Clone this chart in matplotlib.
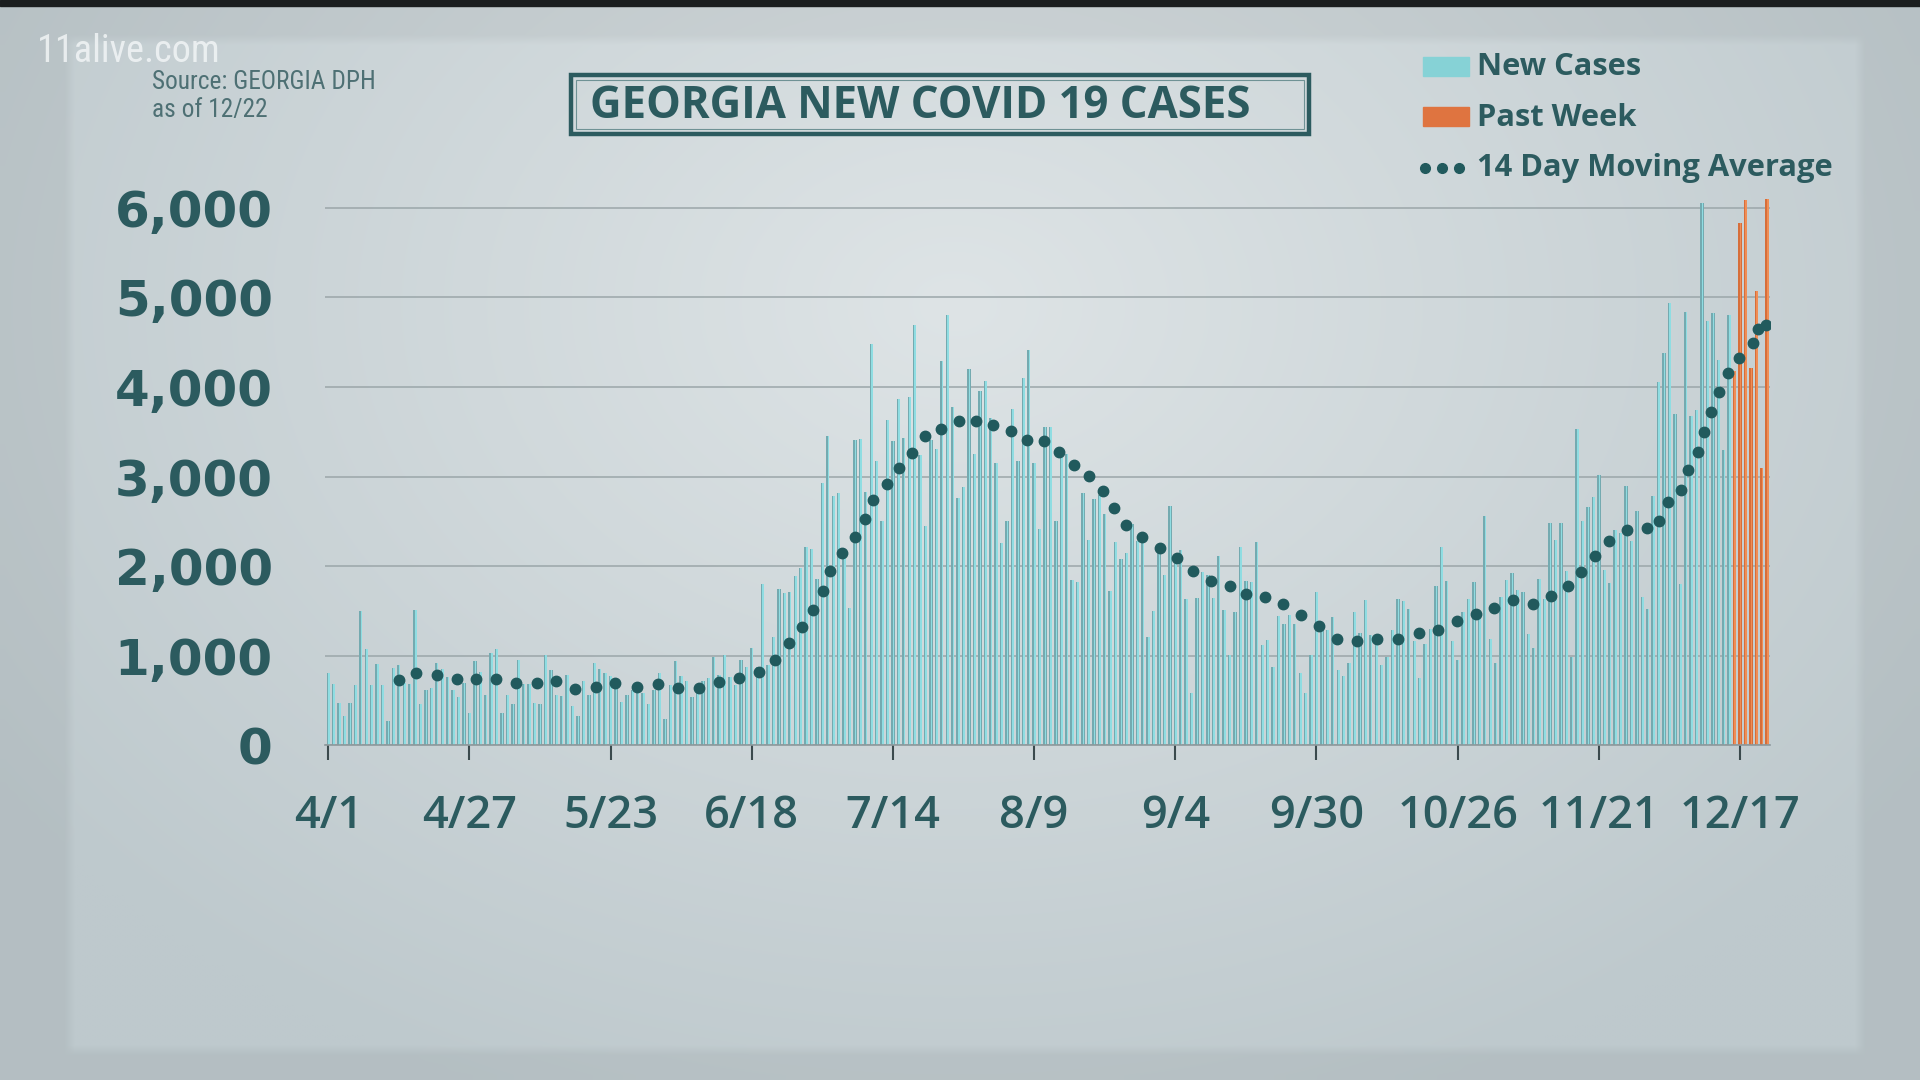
import numpy as np
import matplotlib
matplotlib.use("Agg")
import matplotlib.pyplot as plt
from matplotlib import font_manager
from matplotlib.patches import Rectangle

# daily new cases, 4/1 .. 12/22 (one value per day)
new_cases = [
    808, 686, 475, 325, 475, 666, 1503, 1076, 666, 902, 666, 272, 861, 894, 699, 678, 1511, 463, 617, 638,
    922, 849, 760, 617, 536, 690, 361,
    942, 820, 565, 1024, 1076, 361, 565, 455, 950, 686, 686, 475, 463, 1011, 841, 565, 544, 788, 435, 329,
    711, 565, 922, 849, 800, 768, 711,
    483, 565, 617, 577, 577, 455, 617, 808, 292, 670, 942, 768, 719, 536, 658, 711, 747, 983, 788, 1011,
    760, 666, 954, 873, 1084, 873, 1795, 890,
    1206, 1743, 1694, 1714, 1889, 1978, 2214, 2189, 1856, 2933, 3452, 2782, 2811, 2141, 1531, 3408, 3420,
    2831, 4476, 3176, 2506, 3635, 3392, 3867, 3432, 3887, 4691,
    3245, 2445, 3408, 3310, 4285, 4801, 3773, 2758, 2880, 4204, 3257, 3960, 4070, 3652, 3148, 2254, 2498,
    3757, 3176, 4098, 4415, 3156, 2417, 3554, 3554, 2506, 3217, 3253,
    1848, 1824, 2811, 2295, 2750, 2790, 2587, 1726, 2270, 2080, 2141, 2474, 2283, 2270, 1206, 1499, 2161,
    1905, 2669, 2108, 2181, 1633, 577, 1645, 1937, 1905, 1645, 2112,
    1511, 1011, 1483, 2214, 1836, 1824, 2270, 1117, 1178, 873, 1442, 1349, 1450, 1349, 800, 585, 1011,
    1714, 1349, 1288, 1430, 841, 772, 922, 1483, 1255, 1621,
    1227, 1227, 890, 983, 1288, 1633, 1613, 1523, 1166, 751, 1125, 1296, 1775, 2214, 1836, 1166, 955,
    1491, 1633, 1824, 1483, 2555, 1186, 922, 1653, 1848, 1917, 1734,
    1714, 1239, 1084, 1856, 1633, 2486, 2295, 2486, 1946, 983, 3534, 2506, 2660, 2770, 3014, 1958, 1807,
    2405, 2364, 2892, 2283, 2620, 1653, 1523, 2782, 4058, 4383, 4935,
    3704, 1795, 4842, 3672, 3745, 6060, 4732, 4829, 4301, 3298, 4801,
]
# last seven days (12/16 .. 12/22), shown in orange
past_week = [4180, 5829, 6089, 4212, 5073, 3095, 6100]

# 14 day moving average dots: (day since 4/1, value)
ma_days = [13.0, 16.2, 20.0, 23.8, 27.3, 30.9, 34.5, 38.4, 42.0, 45.5, 49.4, 52.9, 56.9, 60.7, 64.5, 68.3,
           72.0, 75.7, 79.4, 82.3, 84.9, 87.3, 89.3, 91.1, 92.5, 94.6, 97.0, 98.9, 100.4, 102.9, 105.1,
           107.6, 109.9, 112.9, 116.2, 119.3, 122.4, 125.7, 128.6, 131.9, 134.6, 137.3, 140.1, 142.6,
           144.7, 146.9, 149.8, 153.1, 156.4, 159.2, 162.5, 166.0, 169.0, 172.6, 175.9, 179.1, 182.5,
           185.7, 189.5, 193.2, 197.0, 200.8, 204.3, 207.8, 211.4, 214.6, 218.1, 221.8, 225.1, 228.3,
           230.7, 233.3, 235.9, 239.1, 242.8, 245.1, 246.7, 249.1, 250.5, 252.3, 253.4, 254.7, 256.1,
           257.7, 259.8, 262.3, 263.3, 264.8]
ma_vals = [727, 808, 780, 739, 739, 739, 690, 690, 711, 630, 646, 699, 646, 678, 638, 638,
           707, 751, 820, 954, 1137, 1316, 1511, 1722, 1946, 2141, 2323, 2526, 2742, 2912, 3095,
           3258, 3448, 3534, 3623, 3615, 3578, 3513, 3412, 3400, 3278, 3124, 3006, 2839,
           2648, 2457, 2323, 2201, 2092, 1946, 1828, 1775, 1686, 1653, 1572, 1450, 1328,
           1186, 1158, 1186, 1186, 1247, 1288, 1389, 1462, 1531, 1621, 1580, 1665, 1775,
           1929, 2108, 2275, 2405, 2425, 2506, 2721, 2851, 3075, 3278, 3501, 3725, 3944,
           4159, 4326, 4496, 4651, 4691]

tick_days = [0, 26, 52, 78, 104, 130, 156, 182, 208, 234, 260]
tick_labels = ["4/1", "4/27", "5/23", "6/18", "7/14", "8/9", "9/4", "9/30", "10/26", "11/21", "12/17"]
y_ticks = [0, 1000, 2000, 3000, 4000, 5000, 6000]


def pick(*names):
    avail = {f.name for f in font_manager.fontManager.ttflist}
    for n in names:
        if n in avail:
            return n
    return "DejaVu Sans"


MAIN = pick("Open Sans", "Lato", "DejaVu Sans")
NARROW = pick("Liberation Sans Narrow", "Roboto Condensed", "Roboto", "DejaVu Sans")
TEAL = "#2c5b5f"

fig = plt.figure(figsize=(19.2, 10.8), dpi=100)

# background: soft grey-blue panel with a darker frame
bg = fig.add_axes([0, 0, 1, 1])
H, W = 108, 192
yy, xx = np.mgrid[0:H, 0:W]
d = np.sqrt(((xx - 95) / 115.0) ** 2 + ((yy - 30) / 85.0) ** 2)
t = np.clip(d, 0, 1)[..., None]
light = np.array([222, 228, 230]) / 255.0
dark = np.array([190, 201, 205]) / 255.0
img = light * (1 - t) + dark * t
inside = (xx >= 7) & (xx <= 185) & (yy >= 4) & (yy <= 104)
img[~inside] *= 0.95
bg.imshow(img, extent=[0, 1, 0, 1], aspect="auto", interpolation="bilinear", origin="upper")
bg.axis("off")
fig.patches.append(Rectangle((0, 1 - 6 / 1080), 1, 6 / 1080, transform=fig.transFigure,
                             color="#1b1e1f", zorder=1))

ax = fig.add_axes([0.16953, 0.31009, 0.75229, 0.50565])
ax.patch.set_alpha(0)

days = np.arange(len(new_cases))
week_days = np.arange(len(new_cases), len(new_cases) + len(past_week))

ax.bar(days, new_cases, width=0.62, color="#74aab0", zorder=2)
ax.bar(days + 0.12, new_cases, width=0.3, color="#8fdde2", zorder=2)
ax.bar(week_days, past_week, width=0.62, color="#d66e3a", zorder=2)
ax.bar(week_days + 0.12, past_week, width=0.3, color="#f08d55", zorder=2)

ax.plot(ma_days, ma_vals, "o", ms=7.5, color="#215a5d", zorder=4)

ax.set_xlim(-0.5, 265.5)
ax.set_ylim(0, 6100)
ax.set_yticks(y_ticks)
ax.set_yticklabels([f"{v:,}" for v in y_ticks])
ax.set_xticks(tick_days)
ax.set_xticklabels(tick_labels)
ax.grid(axis="y", color="#9ba6a9", linewidth=1.1, zorder=0)
ax.grid(axis="x", visible=False)
for s in ["top", "right", "left"]:
    ax.spines[s].set_visible(False)
ax.spines["bottom"].set_color("#8d989b")
ax.spines["bottom"].set_linewidth(1.2)

ax.tick_params(axis="y", length=0, pad=38, labelsize=36, labelcolor=TEAL)
ax.tick_params(axis="x", length=11, width=1.5, color="#3b4a4d", pad=24, labelsize=32.5, labelcolor=TEAL)
for lab in ax.get_yticklabels():
    lab.set_fontfamily("DejaVu Sans")
    lab.set_fontweight("bold")
for lab in ax.get_xticklabels():
    lab.set_fontfamily(MAIN)
    lab.set_fontweight("semibold")

# title box
fig.patches.append(Rectangle((571 / 1920, 1 - 134 / 1080), 738 / 1920, 59 / 1080,
                             transform=fig.transFigure, fill=False, edgecolor=TEAL, linewidth=3.2))
fig.patches.append(Rectangle((576 / 1920, 1 - 129 / 1080), 728 / 1920, 49 / 1080,
                             transform=fig.transFigure, fill=False, edgecolor="#6f9295", linewidth=0.8))
fig.text(920 / 1920, 1 - 107 / 1080, "GEORGIA NEW COVID 19 CASES", ha="center", va="center",
         fontsize=31.5, fontweight="bold", color=TEAL, family=MAIN)

# station mark and source
fig.text(37 / 1920, 1 - 51 / 1080, "11alive.com", ha="left", va="center", fontsize=27.5,
         color="#f4f7f8", alpha=0.8, family=NARROW)
fig.text(152 / 1920, 1 - 82 / 1080, "Source: GEORGIA DPH", ha="left", va="center", fontsize=18.3,
         color="#4e7074", family=NARROW)
fig.text(152 / 1920, 1 - 110 / 1080, "as of 12/22", ha="left", va="center", fontsize=18.3,
         color="#4e7074", family=NARROW)

# legend
fig.patches.append(Rectangle((1423 / 1920, 1 - 76 / 1080), 46 / 1920, 19 / 1080,
                             transform=fig.transFigure, color="#86d2d6"))
fig.patches.append(Rectangle((1423 / 1920, 1 - 126 / 1080), 46 / 1920, 19 / 1080,
                             transform=fig.transFigure, color="#df7440"))
leg_kw = dict(ha="left", va="center", fontsize=22.2, fontweight="bold", color=TEAL, family=MAIN)
fig.text(1477 / 1920, 1 - 67 / 1080, "New Cases", **leg_kw)
fig.text(1477 / 1920, 1 - 118 / 1080, "Past Week", **leg_kw)
fig.text(1477 / 1920, 1 - 168 / 1080, "14 Day Moving Average", **leg_kw)
lx = [1425 / 1920, 1442 / 1920, 1459 / 1920]
fig.lines.append(plt.Line2D(lx, [1 - 168 / 1080] * 3, transform=fig.transFigure, linestyle="none",
                            marker="o", ms=7, color="#215a5d"))

fig.savefig("out.png", dpi=100)
